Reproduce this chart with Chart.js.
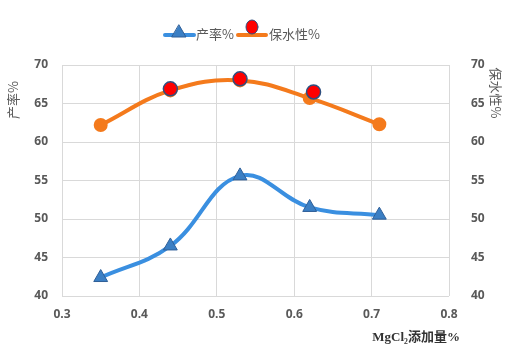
<!DOCTYPE html>
<html>
<head>
<meta charset="utf-8">
<script src="https://cdn.jsdelivr.net/npm/chart.js@4.4.0/dist/chart.umd.min.js"></script>
<style>
  html, body { margin: 0; padding: 0; background: #fff; }
  #wrap { width: 512px; height: 347px; }
</style>
</head>
<body>
<div id="wrap"><canvas id="chart"></canvas></div>
<script>
// MgCl2 addition (%) on x
const mgcl = [0.35, 0.44, 0.53, 0.62, 0.71];
const yieldPct = [42.4, 46.5, 55.6, 51.5, 50.5];
const waterRetention = [62.2, 66.7, 68.0, 65.7, 62.3];
// red markers drawn over the water-retention curve
const markerX = [0.44, 0.53, 0.625];
const markerY = [66.9, 68.2, 66.5];
const yTicks = [40, 45, 50, 55, 60, 65, 70];
const xTicks = [0.3, 0.4, 0.5, 0.6, 0.7, 0.8];

const pts = (xs, ys) => xs.map((x, i) => ({ x: x, y: ys[i] }));

const gray = "#595959";
const tickFont = { family: "'Open Sans', 'Liberation Sans', sans-serif", size: 12, weight: "bold" };

const decor = {
    id: "decor",
    afterDraw(chart) {
        const c = chart.ctx;
        c.save();
        // legend
        c.lineCap = "round";
        c.lineWidth = 4;
        c.strokeStyle = "#3a8fe0";
        c.beginPath(); c.moveTo(165, 35); c.lineTo(194, 35); c.stroke();
        c.fillStyle = "#3b7fc4";
        c.strokeStyle = "#2f5f98";
        c.lineWidth = 1;
        c.beginPath(); c.moveTo(179, 25); c.lineTo(186, 37); c.lineTo(172, 37); c.closePath(); c.fill(); c.stroke();
        c.lineWidth = 4;
        c.strokeStyle = "#f47a1c";
        c.beginPath(); c.moveTo(238, 35); c.lineTo(266, 35); c.stroke();
        c.fillStyle = "#ff0000";
        c.strokeStyle = "#2f4f7f";
        c.lineWidth = 1;
        c.beginPath(); c.ellipse(252, 27, 6, 7, 0, 0, Math.PI * 2); c.fill(); c.stroke();

        c.fillStyle = gray;
        c.font = "13px 'Noto Sans CJK SC'";
        c.textBaseline = "middle";
        c.textAlign = "left";
        c.fillText("产率%", 196, 34);
        c.fillText("保水性%", 269, 34);

        // axis titles
        c.font = "13px 'Noto Sans CJK SC'";
        c.save();
        c.translate(13, 100);
        c.rotate(-Math.PI / 2);
        c.textAlign = "center";
        c.fillText("产率%", 0, 0);
        c.restore();
        c.save();
        c.translate(496, 93);
        c.rotate(Math.PI / 2);
        c.textAlign = "center";
        c.fillText("保水性%", 0, 0);
        c.restore();

        c.fillStyle = "#333";
        c.font = "bold 13px 'Liberation Serif', 'Noto Sans CJK SC'";
        c.textAlign = "right";
        c.fillText("MgCl₂添加量%", 460, 338);
        c.restore();
    }
};

new Chart(document.getElementById("chart"), {
    type: "line",
    data: {
        datasets: [
            {
                label: "产率%",
                data: pts(mgcl, yieldPct),
                borderColor: "#3a8fe0",
                borderWidth: 4,
                tension: 0.4,
                pointStyle: "triangle",
                pointRadius: 8,
                pointBackgroundColor: "#3b7fc4",
                pointBorderColor: "#2f5f98",
                pointBorderWidth: 1,
                yAxisID: "y",
                order: 3,
            },
            {
                label: "保水性%",
                data: pts(mgcl, waterRetention),
                borderColor: "#f47a1c",
                borderWidth: 4,
                tension: 0.4,
                pointStyle: "circle",
                pointRadius: 5,
                pointBackgroundColor: "#f47a1c",
                pointBorderColor: "#f47a1c",
                yAxisID: "y",
                order: 2,
            },
            {
                label: "markers",
                data: pts(markerX, markerY),
                showLine: false,
                pointStyle: "circle",
                pointRadius: 7,
                pointBackgroundColor: "#ff0000",
                pointBorderColor: "#2f4f7f",
                pointBorderWidth: 1.5,
                yAxisID: "y",
                order: 1,
            },
        ],
    },
    options: {
        responsive: true,
        maintainAspectRatio: false,
        animation: false,
        layout: { padding: { top: 65, bottom: 0, left: 0, right: 0 } },
        plugins: {
            legend: { display: false },
            tooltip: { enabled: false },
        },
        scales: {
            x: {
                type: "linear",
                min: 0.3,
                max: 0.8,
                afterBuildTicks: (s) => { s.ticks = xTicks.map((v) => ({ value: v })); },
                afterFit: (s) => { s.height = 51; },
                ticks: {
                    color: gray,
                    font: tickFont,
                    padding: 11,
                    callback: (v) => v.toFixed(1),
                },
                grid: { color: "#d9d9d9", drawTicks: false },
                border: { display: false },
            },
            y: {
                position: "left",
                min: 40,
                max: 70,
                afterBuildTicks: (s) => { s.ticks = yTicks.map((v) => ({ value: v })); },
                afterFit: (s) => { s.width = 62; },
                ticks: { color: gray, font: tickFont, padding: 14 },
                grid: { color: "#d9d9d9", drawTicks: false },
                border: { display: false },
            },
            y1: {
                position: "right",
                min: 40,
                max: 70,
                afterBuildTicks: (s) => { s.ticks = yTicks.map((v) => ({ value: v })); },
                afterFit: (s) => { s.width = 63; },
                ticks: { color: gray, font: tickFont, padding: 14 },
                grid: { display: false },
                border: { display: false },
            },
        },
    },
    plugins: [decor],
});
</script>
</body>
</html>
